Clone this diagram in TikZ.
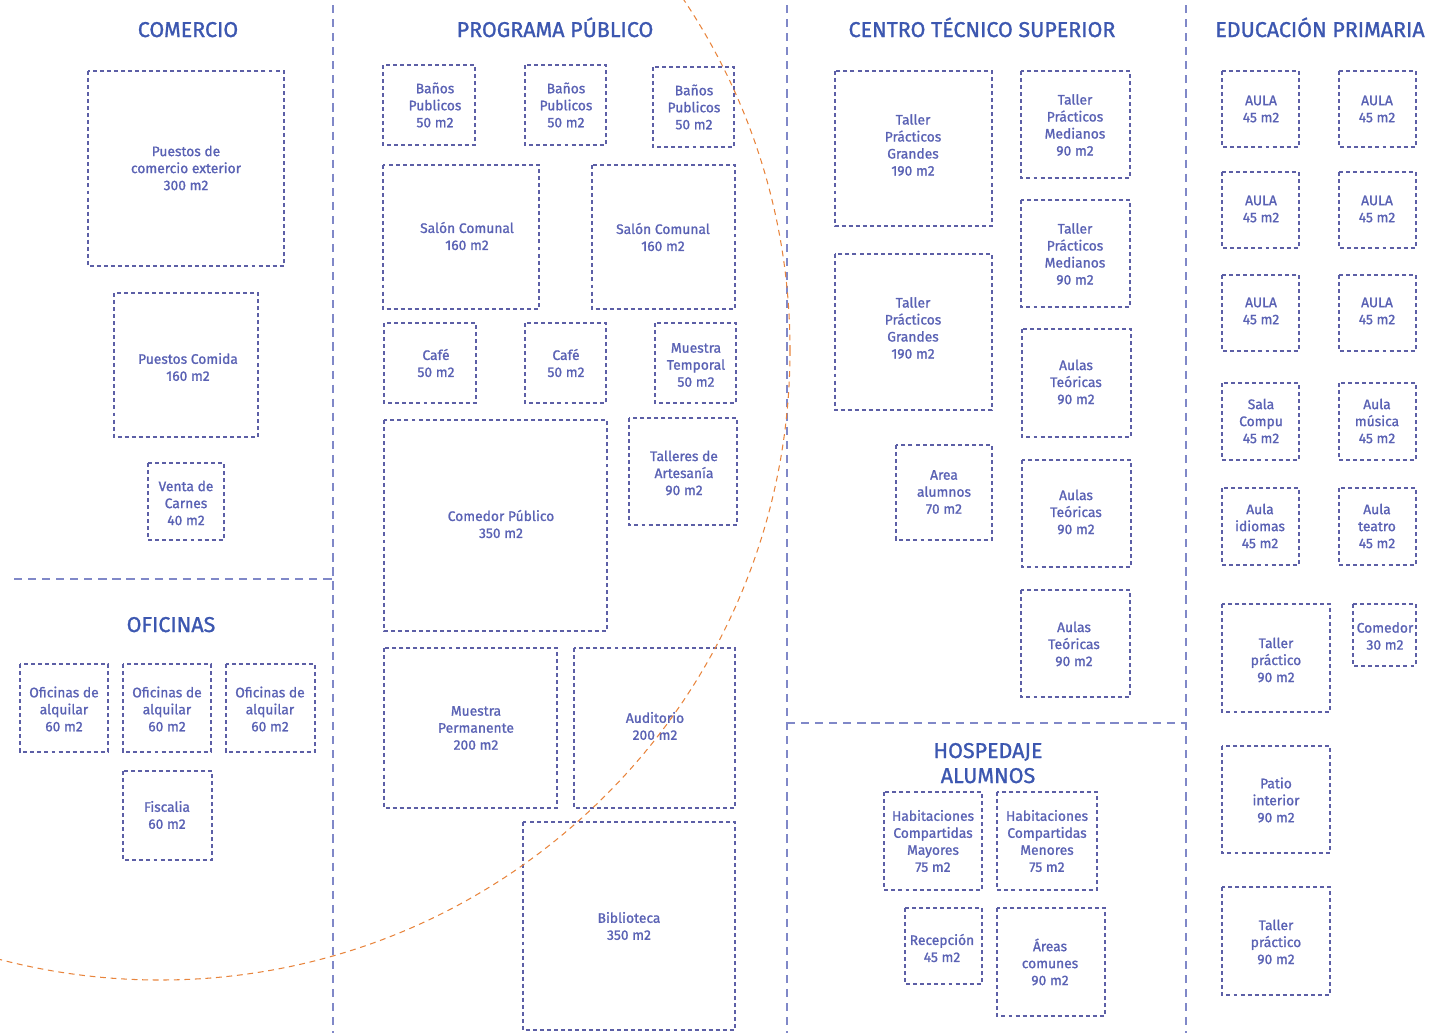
\documentclass[tikz,border=0pt]{standalone}
\usepackage{fontspec}
\setmainfont{Fira Sans}
\newfontfamily\fuenteplano[FakeBold=1.2]{Fira Sans}
\definecolor{colTitulo}{HTML}{3C57B0}
\definecolor{colTexto}{HTML}{5A62B4}
\definecolor{colCaja}{HTML}{5C5FA6}
\definecolor{colLinea}{HTML}{8088C8}
\definecolor{colArco}{HTML}{E8843C}
\begin{document}
\begin{tikzpicture}[x=0.03cm,y=-0.03cm,
	sala/.style={draw=colCaja,line width=1.3pt,dash pattern=on 3.4pt off 2.6pt},
	division/.style={draw=colLinea,line width=1.1pt,dash pattern=on 7pt off 5pt},
	arco/.style={draw=colArco,line width=0.9pt,dash pattern=on 5pt off 4pt},
	etiqueta/.style={text=colTexto,align=center,inner sep=0pt,font=\fuenteplano\fontsize{11.8}{14.5}\selectfont},
	titulo/.style={text=colTitulo,align=center,inner sep=0pt,anchor=base,font=\fuenteplano\fontsize{18.3}{21}\selectfont}]
	\useasboundingbox (0,0) rectangle (1443,1033);
	\clip (0,0) rectangle (1443,1033);
	%divisiones
	\draw[division] (333,5) -- (333,1033);
	\draw[division] (14,579) -- (333,579);
	\draw[division] (787,5) -- (787,1033);
	\draw[division] (787,723) -- (1186,723);
	\draw[division] (1186,5) -- (1186,1033);
	%comercio
	\node[titulo] (tComercio) at (188,37) {COMERCIO};
	\draw[sala] (88,71) rectangle (284,266);
	\node[etiqueta] (comercioExt) at (186,168) {Puestos de\\comercio exterior\\300 m2};
	\draw[sala] (114,293) rectangle (258,437);
	\node[etiqueta] (comida) at (188,367) {Puestos Comida\\160 m2};
	\draw[sala] (148,463) rectangle (224,540);
	\node[etiqueta] (carnes) at (186,503) {Venta de\\Carnes\\40 m2};
	%oficinas
	\node[titulo] (tOficinas) at (171,632) {OFICINAS};
	\draw[sala] (20,664) rectangle (108,752);
	\node[etiqueta] (ofi1) at (64,709) {Oficinas de\\alquilar\\60 m2};
	\draw[sala] (123,664) rectangle (211,752);
	\node[etiqueta] (ofi2) at (167,709) {Oficinas de\\alquilar\\60 m2};
	\draw[sala] (226,664) rectangle (315,752);
	\node[etiqueta] (ofi3) at (270,709) {Oficinas de\\alquilar\\60 m2};
	\draw[sala] (123,771) rectangle (212,860);
	\node[etiqueta] (fiscalia) at (167,815) {Fiscalia\\60 m2};
	%programa publico
	\node[titulo] (tPrograma) at (555,37) {PROGRAMA PÚBLICO};
	\draw[sala] (383,65) rectangle (475,145);
	\node[etiqueta] (banos1) at (435,105) {Baños\\Publicos\\50 m2};
	\draw[sala] (525,65) rectangle (606,145);
	\node[etiqueta] (banos2) at (566,105) {Baños\\Publicos\\50 m2};
	\draw[sala] (653,67) rectangle (734,147);
	\node[etiqueta] (banos3) at (694,107) {Baños\\Publicos\\50 m2};
	\draw[sala] (383,165) rectangle (539,309);
	\node[etiqueta] (salon1) at (467,236) {Salón Comunal\\160 m2};
	\draw[sala] (592,165) rectangle (735,309);
	\node[etiqueta] (salon2) at (663,237) {Salón Comunal\\160 m2};
	\draw[sala] (384,323) rectangle (476,403);
	\node[etiqueta] (cafe1) at (436,363) {Café\\50 m2};
	\draw[sala] (525,323) rectangle (606,403);
	\node[etiqueta] (cafe2) at (566,363) {Café\\50 m2};
	\draw[sala] (655,323) rectangle (736,403);
	\node[etiqueta] (muestraTemp) at (696,365) {Muestra\\Temporal\\50 m2};
	\draw[sala] (384,420) rectangle (607,631);
	\node[etiqueta] (comedorPub) at (501,524) {Comedor Público\\350 m2};
	\draw[sala] (629,418) rectangle (737,525);
	\node[etiqueta] (talleres) at (684,473) {Talleres de\\Artesanía\\90 m2};
	\draw[sala] (384,648) rectangle (557,808);
	\node[etiqueta] (muestraPerm) at (476,728) {Muestra\\Permanente\\200 m2};
	\draw[sala] (574,648) rectangle (735,808);
	\node[etiqueta] (auditorio) at (655,726) {Auditorio\\200 m2};
	\draw[sala] (523,822) rectangle (735,1030);
	\node[etiqueta] (biblioteca) at (629,926) {Biblioteca\\350 m2};
	%centro tecnico
	\node[titulo] (tCentro) at (982,37) {CENTRO TÉCNICO SUPERIOR};
	\draw[sala] (835,71) rectangle (992,226);
	\node[etiqueta] (tallerG1) at (913,145) {Taller\\Prácticos\\Grandes\\190 m2};
	\draw[sala] (835,254) rectangle (992,410);
	\node[etiqueta] (tallerG2) at (913,328) {Taller\\Prácticos\\Grandes\\190 m2};
	\draw[sala] (1021,71) rectangle (1130,178);
	\node[etiqueta] (tallerM1) at (1075,125) {Taller\\Prácticos\\Medianos\\90 m2};
	\draw[sala] (1021,200) rectangle (1130,307);
	\node[etiqueta] (tallerM2) at (1075,254) {Taller\\Prácticos\\Medianos\\90 m2};
	\draw[sala] (1022,329) rectangle (1131,437);
	\node[etiqueta] (aulasT1) at (1076,382) {Aulas\\Teóricas\\90 m2};
	\draw[sala] (1022,460) rectangle (1131,567);
	\node[etiqueta] (aulasT2) at (1076,512) {Aulas\\Teóricas\\90 m2};
	\draw[sala] (1021,590) rectangle (1130,697);
	\node[etiqueta] (aulasT3) at (1074,644) {Aulas\\Teóricas\\90 m2};
	\draw[sala] (896,445) rectangle (992,540);
	\node[etiqueta] (areaAlum) at (944,492) {Area\\alumnos\\70 m2};
	%hospedaje
	\node[titulo] (tHospedaje) at (988,758) {HOSPEDAJE};
	\node[titulo] (tAlumnos) at (988,783) {ALUMNOS};
	\draw[sala] (884,792) rectangle (982,890);
	\node[etiqueta] (habMay) at (933,841) {Habitaciones\\Compartidas\\Mayores\\75 m2};
	\draw[sala] (997,792) rectangle (1097,890);
	\node[etiqueta] (habMen) at (1047,841) {Habitaciones\\Compartidas\\Menores\\75 m2};
	\draw[sala] (905,908) rectangle (982,984);
	\node[etiqueta] (recepcion) at (942,948) {Recepción\\45 m2};
	\draw[sala] (997,908) rectangle (1105,1016);
	\node[etiqueta] (areasCom) at (1050,962) {Áreas\\comunes\\90 m2};
	%educacion primaria
	\node[titulo] (tEducacion) at (1320,37) {EDUCACIÓN PRIMARIA};
	\draw[sala] (1222,71) rectangle (1299,147);
	\node[etiqueta] (aula1) at (1261,109) {AULA\\45 m2};
	\draw[sala] (1339,71) rectangle (1416,147);
	\node[etiqueta] (aula2) at (1377,109) {AULA\\45 m2};
	\draw[sala] (1222,172) rectangle (1299,248);
	\node[etiqueta] (aula3) at (1261,209) {AULA\\45 m2};
	\draw[sala] (1339,172) rectangle (1416,248);
	\node[etiqueta] (aula4) at (1377,209) {AULA\\45 m2};
	\draw[sala] (1222,275) rectangle (1299,351);
	\node[etiqueta] (aula5) at (1261,311) {AULA\\45 m2};
	\draw[sala] (1339,275) rectangle (1416,351);
	\node[etiqueta] (aula6) at (1377,311) {AULA\\45 m2};
	\draw[sala] (1222,383) rectangle (1299,460);
	\node[etiqueta] (salaCompu) at (1261,421) {Sala\\Compu\\45 m2};
	\draw[sala] (1339,383) rectangle (1416,460);
	\node[etiqueta] (aulaMusica) at (1377,421) {Aula\\música\\45 m2};
	\draw[sala] (1222,488) rectangle (1299,565);
	\node[etiqueta] (aulaIdiomas) at (1260,526) {Aula\\idiomas\\45 m2};
	\draw[sala] (1339,488) rectangle (1416,565);
	\node[etiqueta] (aulaTeatro) at (1377,526) {Aula\\teatro\\45 m2};
	\draw[sala] (1222,604) rectangle (1330,712);
	\node[etiqueta] (tallerP1) at (1276,660) {Taller\\práctico\\90 m2};
	\draw[sala] (1353,604) rectangle (1416,666);
	\node[etiqueta] (comedor) at (1385,636) {Comedor\\30 m2};
	\draw[sala] (1222,746) rectangle (1330,853);
	\node[etiqueta] (patio) at (1276,800) {Patio\\interior\\90 m2};
	\draw[sala] (1222,887) rectangle (1330,995);
	\node[etiqueta] (tallerP2) at (1276,942) {Taller\\práctico\\90 m2};
	%arco
	\draw[arco] (160,350) circle (630);
\end{tikzpicture}
\end{document}
